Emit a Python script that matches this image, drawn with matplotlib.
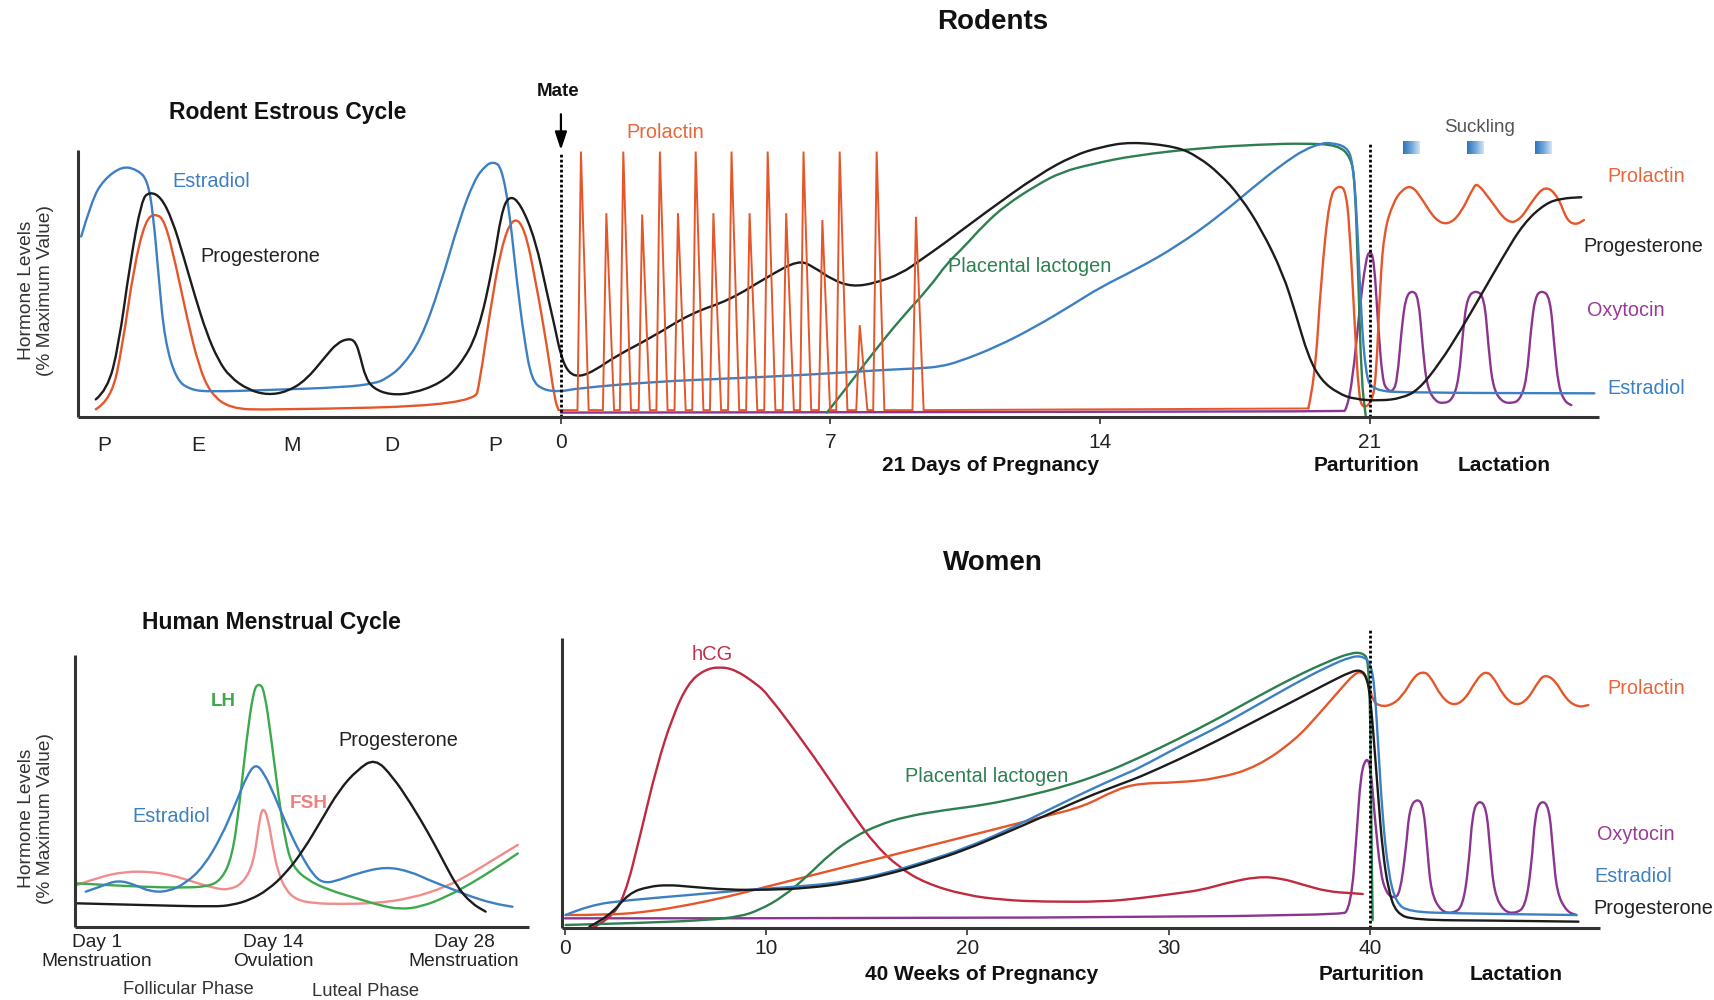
import numpy as np
import matplotlib
matplotlib.use("Agg")
import matplotlib.pyplot as plt
from matplotlib.colors import LinearSegmentedColormap
from matplotlib.path import Path
from matplotlib.patches import PathPatch

plt.rcParams['font.family'] = ['Liberation Sans', 'DejaVu Sans']

W, H = 1715, 1000

BLUE = '#3d80c2'
BLACK = '#1c1c1c'
ORANGE = '#e5572b'
GREEN = '#2d7f4f'
PURPLE = '#8b3590'
LH_GREEN = '#3caa4c'
FSH_PINK = '#f08c8c'
HCG_RED = '#bf2a40'
AXIS = '#333333'

# ---------------- rodents: estrous cycle + 21 days of pregnancy + lactation
# x in days of pregnancy (estrous cycle sits at negative days), y in % of max
rat_e2_day = [-12.46, -12.18, -11.88, -11.39, -10.99, -10.74, -10.59, -10.44, -10.29, -9.99,
              -9.6, -9.1, -7.61, -5.62, -4.83, -4.53, -4.13, -3.64, -3.14, -2.64, -2.25,
              -1.95, -1.75, -1.55, -1.35, -1.15, -0.95, -0.76, -0.46, 0.0, 0.4, 2.39, 4.38,
              6.36, 8.35, 9.34, 9.84, 10.34, 11.33, 12.33, 13.32, 14.0, 15.0, 16.0, 17.1,
              18.2, 18.86, 19.3, 19.74, 20.0, 20.4, 20.56, 20.67, 20.78, 20.9, 21.06, 22.05, 26.84]
rat_e2 = [65.5, 78.8, 86.1, 91.2, 89.7, 86.1, 73.9, 49.7, 27.9, 13.3,
          9.7, 9.1, 9.7, 10.7, 12.1, 13.9, 18.2, 27.9, 47.3, 71.5, 86.1,
          91.5, 92.7, 90.9, 76.4, 49.7, 27.9, 13.3, 9.7, 9.1, 10.3, 12.7, 13.9,
          15.2, 17.0, 17.6, 18.2, 20.0, 25.5, 32.7, 41.0, 47.0, 54.0, 62.0, 73.0,
          86.0, 93.0, 97.0, 99.4, 99.6, 98.2, 93.3, 73.9, 37.6, 15.8, 9.5, 8.7, 8.5]

rat_p4_day = [-12.08, -11.78, -11.49, -11.19, -10.89, -10.69, -10.39, -10.09, -9.8, -9.5,
              -9.2, -8.9, -8.6, -8.11, -7.61, -7.11, -6.62, -6.12, -5.82, -5.52, -5.33,
              -5.21, -5.08, -4.88, -4.43, -3.84, -3.14, -2.64, -2.15, -1.75, -1.55, -1.35,
              -1.05, -0.66, -0.36, -0.16, 0.0, 0.2, 0.5, 0.9, 1.4, 2.39, 3.38, 4.38, 5.37,
              6.17, 6.56, 7.06, 7.56, 8.15, 8.85, 9.34, 9.86, 11.0, 12.4, 13.32, 14.0, 14.8,
              16.0, 16.55, 17.1, 17.65, 18.2, 18.75, 19.08, 19.41, 19.74, 20.18, 20.62,
              21.28, 21.83, 22.27, 22.82, 23.37, 23.92, 24.47, 25.0, 25.57, 26.0, 26.5]
rat_p4 = [6.3, 9.7, 25.5, 55.8, 78.8, 81.8, 80.0, 71.5, 58.2, 43.6,
          30.3, 20.6, 14.5, 9.7, 7.9, 9.1, 13.3, 21.8, 26.7, 28.5, 27.3,
          21.8, 14.5, 10.3, 7.9, 8.5, 12.1, 18.2, 30.3, 55.8, 73.9, 80.6,
          77.6, 64.2, 44.8, 32.7, 22.0, 15.8, 14.5, 17.0, 21.8, 29.1, 37.6, 42.4, 50.9,
          57.0, 54.5, 49.7, 47.3, 48.5, 52.1, 57.0, 62.0, 74.0, 88.0, 95.0, 98.0, 100.0,
          98.2, 94.5, 88.5, 80.0, 67.9, 52.1, 37.6, 21.8, 13.3, 8.5, 6.3,
          5.8, 6.7, 9.7, 19.4, 31.5, 44.8, 58.2, 70.3, 77.6, 79.4, 79.8]

rat_prl_day = [-12.08, -11.68, -11.39, -11.09, -10.79, -10.54, -10.29, -9.99, -9.7, -9.4,
               -9.1, -8.6, -7.61, -2.25, -2.1, -1.85, -1.55, -1.25, -0.95, -0.66, -0.36,
               -0.16, -0.06]
rat_prl = [2.7, 6.1, 25.5, 54.5, 71.5, 73.9, 71.5, 54.5, 35.2, 18.2,
           8.5, 3.0, 2.4, 4.2, 13.3, 37.6, 61.8, 72.7, 69.1, 49.7, 25.5,
           6.1, 2.4]
# twice-daily prolactin surges after mating
prl_surge_day = [0.52, 1.18, 1.62, 2.11, 2.57, 3.04, 3.5, 3.96, 4.43, 4.9, 5.37, 5.85,
                 6.3, 6.79, 7.24, 7.76, 8.2, 9.22]
prl_surge_pct = [96.4, 74.0, 96.4, 73.5, 96.4, 74.0, 96.4, 74.0, 96.4, 74.0, 96.4, 74.0,
                 96.4, 71.5, 96.4, 33.3, 96.4, 72.7]
prl_base = 2.4
rat_prl_late_day = [19.41, 19.58, 19.74, 19.96, 20.18, 20.4, 20.51, 20.62, 20.72, 20.82,
                    21.05, 21.17, 21.28, 21.39, 21.61, 21.83, 22.1, 22.38, 22.71, 23.04,
                    23.37, 23.7, 23.81, 24.14, 24.58, 24.91, 25.24, 25.57, 25.9, 26.12,
                    26.35, 26.57]
rat_prl_late = [3.0, 13.3, 49.7, 80.0, 84.2, 82.4, 62.0, 32.0, 8.0, 3.0,
                5.0, 13.3, 49.7, 67.9, 77.6, 82.4, 84.2, 78.8, 71.5, 69.7,
                73.9, 83.6, 84.8, 78.8, 70.3, 71.5, 78.8, 84.2, 80.0, 71.5,
                69.7, 71.5]

rat_pl_day = [6.91, 7.5, 8.15, 8.85, 9.57, 10.04, 10.42, 11.0, 11.56, 12.33, 13.0, 13.83,
              14.9, 16.67, 18.2, 19.3, 20.18, 20.51, 20.62, 20.71, 20.79, 20.9]
rat_pl = [1.5, 12.0, 24.0, 36.0, 47.0, 56.0, 61.0, 70.0, 77.0, 84.0, 89.0, 92.0,
          95.0, 97.8, 99.0, 99.4, 98.8, 94.5, 86.0, 49.7, 13.3, 0.5]

rat_oxt_day = [0.0, 20.29, 20.4, 20.56, 20.73, 20.9, 21.01, 21.12, 21.23, 21.34, 21.45,
               21.61, 21.72, 21.83, 21.94, 22.11, 22.27, 22.38, 22.49, 22.71, 22.93, 23.15,
               23.32, 23.43, 23.54, 23.76, 23.98, 24.09, 24.2, 24.42, 24.69, 24.91, 25.08,
               25.19, 25.3, 25.47, 25.69, 25.8, 25.91, 26.07, 26.24]
rat_oxt = [1.5, 1.8, 2.4, 13.3, 37.6, 57.0, 60.6, 57.0, 31.5, 13.3, 9.7,
           9.1, 13.3, 31.5, 43.6, 46.0, 43.6, 25.5, 10.9, 5.5, 4.8, 6.1,
           13.3, 31.5, 43.6, 46.0, 43.6, 25.5, 10.9, 5.5, 4.8, 6.1, 13.3,
           31.5, 43.6, 46.0, 43.6, 25.5, 10.9, 5.5, 4.2]

suckling_day = [22.08, 23.74, 25.52]
estrous_stage_day = [-11.86, -9.42, -6.98, -4.39, -1.71]
estrous_stage = ['P', 'E', 'M', 'D', 'P']
mate_day, rat_birth_day = 0, 21

# ---------------- human menstrual cycle (x: cycle day)
men_p4_day = [-0.49, 4.37, 9.63, 10.94, 12.25, 13.56, 14.88, 16.19, 17.5, 18.82, 20.13,
              21.44, 22.75, 24.07, 25.38, 26.43, 27.48, 28.53, 29.58]
men_p4 = [9.6, 8.9, 8.2, 8.9, 11.0, 15.1, 21.9, 31.5, 43.8, 56.2, 64.4,
          69.2, 61.6, 50.7, 38.4, 27.4, 16.4, 9.6, 6.2]
men_e2_day = [0.17, 1.22, 2.53, 3.85, 4.9, 6.21, 7.52, 8.84, 10.15, 11.2, 11.99, 12.65,
              13.3, 14.09, 14.88, 15.93, 16.98, 17.77, 18.82, 20.13, 22.23, 24.07, 25.38,
              26.96, 28.53, 30.11, 31.55]
men_e2 = [14.4, 16.4, 19.2, 17.1, 14.4, 14.4, 17.8, 24.7, 37.0, 50.7, 61.6, 67.1,
          63.0, 53.4, 42.5, 30.1, 20.5, 17.8, 19.2, 21.9, 24.7, 22.6, 19.2,
          15.8, 12.3, 9.6, 8.2]
men_lh_day = [-0.49, 1.75, 4.37, 7.0, 9.1, 10.15, 10.94, 11.46, 11.99, 12.51, 12.91, 13.3,
              13.83, 14.35, 14.88, 15.4, 16.45, 18.03, 20.13, 21.71, 23.28, 24.86, 26.7,
              28.53, 30.11, 31.95]
men_lh = [17.8, 17.1, 16.4, 16.0, 16.4, 19.2, 28.8, 49.3, 76.7, 97.3, 100.0, 97.3,
          76.7, 53.4, 34.2, 24.7, 19.2, 15.1, 11.6, 8.9, 7.1, 8.2, 12.3,
          17.8, 23.3, 30.1]
men_fsh_day = [-0.49, 1.22, 3.06, 4.9, 6.47, 8.05, 9.63, 10.68, 11.73, 12.51, 12.91, 13.17,
               13.56, 13.96, 14.35, 14.88, 15.67, 16.98, 18.82, 21.44, 24.07, 26.7, 28.53,
               30.11, 31.95]
men_fsh = [17.1, 20.5, 22.6, 22.6, 21.2, 18.5, 15.8, 15.1, 17.8, 26.0, 42.5, 49.3,
           45.2, 31.5, 21.9, 15.1, 11.0, 9.6, 9.3, 9.6, 11.6, 16.4, 21.9,
           27.4, 33.6]
men_ticks = [1, 14, 28]
men_tick_labels = ['Day 1\nMenstruation', 'Day 14\nOvulation', 'Day 28\nMenstruation']

# ---------------- women: 40 weeks of pregnancy + lactation (x: week)
hcg_wk = [1.31, 2.19, 2.97, 3.76, 4.55, 5.34, 6.12, 6.91, 7.69, 8.48, 9.46, 10.05, 12.02,
          13.39, 14.38, 15.36, 16.54, 17.91, 19.88, 21.84, 23.81, 26.76, 28.5, 30.5, 31.66,
          32.83, 34.4, 35.6, 36.7, 37.9, 39.06, 39.65]
hcg = [0.0, 3.0, 11.4, 34.3, 58.4, 76.5, 88.6, 93.4, 94.6, 93.4, 88.6, 84.9, 65.7,
       51.2, 40.4, 30.7, 22.3, 16.3, 12.0, 10.2, 9.6, 9.6, 10.8, 12.7, 13.9,
       16.3, 18.7, 18.1, 15.7, 13.3, 12.7, 12.4]
hum_p4_wk = [1.21, 2.19, 3.17, 4.16, 5.14, 6.12, 8.09, 10.05, 12.02, 13.99, 15.95, 17.91,
             19.88, 21.84, 23.81, 25.77, 27.74, 28.5, 30.5, 32.5, 34.4, 36.3, 37.9, 39.06,
             39.55, 39.85, 40.04, 40.24, 40.43, 40.63, 40.92, 41.31, 42.2, 46.08, 50.37]
hum_p4 = [0.6, 4.2, 12.7, 15.1, 15.7, 15.1, 13.9, 13.9, 14.5, 16.3, 19.3, 23.5,
          28.3, 34.3, 40.5, 47.0, 52.5, 54.5, 61.0, 68.1, 75.3, 82.5, 88.6, 92.8,
          93.4, 91.0, 82.5, 64.5, 46.4, 28.3, 13.9, 5.4, 3.0, 2.8, 2.4]
hum_e2_wk = [0.03, 1.21, 3.17, 6.12, 9.07, 12.02, 13.99, 15.95, 17.91, 19.88, 21.84, 23.81,
             25.77, 27.74, 28.5, 30.5, 32.5, 34.4, 36.3, 37.9, 39.06, 39.65, 40.04, 40.24,
             40.43, 40.63, 40.92, 41.31, 41.98, 44.13, 50.27]
hum_e2 = [4.8, 8.4, 10.2, 12.0, 13.9, 15.3, 16.9, 19.9, 24.1, 28.9, 35.0, 42.0,
          49.0, 55.5, 57.8, 65.7, 72.9, 80.7, 88.6, 94.6, 98.2, 98.4, 95.8, 87.3,
          64.5, 40.4, 19.9, 9.0, 6.0, 5.4, 4.8]
hum_prl_wk = [0.03, 2.19, 4.16, 6.12, 8.09, 10.05, 12.02, 13.99, 15.95, 17.91, 19.88, 21.84,
              23.81, 25.77, 27.35, 28.5, 30.5, 32.5, 34.4, 36.3, 37.5, 38.5, 39.25, 39.65,
              39.94, 40.14, 40.43, 41.01, 41.6, 42.2, 42.6, 42.97, 43.55, 44.13, 44.71,
              45.3, 45.69, 46.08, 46.67, 47.25, 47.83, 48.42, 48.71, 49.2, 49.78, 50.37, 50.86]
hum_prl = [4.8, 4.8, 6.0, 8.4, 11.4, 15.1, 18.7, 22.3, 25.9, 29.5, 33.1, 36.7,
           40.4, 44.0, 50.0, 52.4, 52.7, 54.2, 58.4, 68.1, 77.7, 86.1, 92.2, 92.8,
           88.6, 82.5, 80.4, 80.4, 83.7, 91.0, 92.8, 91.6, 83.7, 80.4, 82.5,
           89.8, 92.8, 91.6, 83.7, 80.4, 82.5, 89.8, 91.6, 89.8, 82.5, 79.9, 80.7]
hpl_wk = [0.03, 4.16, 7.1, 8.68, 9.66, 10.84, 12.02, 13.2, 14.38, 15.56, 16.93, 18.9,
          20.86, 22.83, 24.79, 26.76, 28.5, 30.5, 32.5, 34.4, 36.3, 37.9, 39.06, 39.65,
          39.94, 40.04, 40.08, 40.14]
hpl = [1.2, 2.0, 3.0, 4.2, 6.6, 11.4, 18.7, 27.1, 33.1, 37.3, 40.4, 42.8,
       44.6, 47.6, 51.2, 56.0, 61.5, 68.5, 76.0, 83.7, 91.0, 96.4, 99.6, 99.6,
       97.0, 70.5, 34.3, 3.0]
hum_oxt_wk = [0.0, 38.5, 39.06, 39.35, 39.55, 39.84, 40.04, 40.24, 40.53, 40.82, 41.2,
              41.5, 41.79, 41.98, 42.38, 42.67, 42.86, 43.05, 43.55, 44.13, 44.62, 44.91,
              45.1, 45.4, 45.79, 45.98, 46.18, 46.67, 47.25, 47.73, 48.03, 48.22, 48.52,
              48.91, 49.1, 49.3, 49.79, 50.27]
hum_oxt = [3.6, 3.6, 7.8, 34.3, 56.0, 62.0, 58.4, 40.4, 19.9, 12.7, 10.8,
           12.7, 28.3, 44.0, 47.0, 44.0, 28.3, 12.7, 6.0, 5.4, 7.8, 22.3,
           41.6, 46.4, 44.0, 28.3, 12.7, 6.0, 5.4, 7.8, 22.3, 41.6, 46.4,
           44.0, 28.3, 12.7, 6.0, 4.8]
week_ticks = [0, 10, 20, 30, 40]
hum_birth_wk = 40


def px_axes(fig, x0, x1, y_base, y_top):
    return fig.add_axes([x0 / W, 1 - y_base / H, (x1 - x0) / W, (y_base - y_top) / H])


def style_axes(ax):
    for s in ('top', 'right'):
        ax.spines[s].set_visible(False)
    for s in ('left', 'bottom'):
        ax.spines[s].set_linewidth(2.2)
        ax.spines[s].set_color(AXIS)
        ax.spines[s].set_capstyle('butt')
    ax.set_yticks([])
    ax.patch.set_alpha(0)


def curve(ax, x, y, color, lw=1.7):
    # smooth path: the given points act as quadratic bezier control points
    pts = np.column_stack([x, y]).astype(float)
    verts, codes = [pts[0]], [Path.MOVETO]
    for i in range(1, len(pts) - 1):
        verts += [pts[i], (pts[i] + pts[i + 1]) / 2]
        codes += [Path.CURVE3, Path.CURVE3]
    verts.append(pts[-1])
    codes.append(Path.LINETO)
    ax.add_patch(PathPatch(Path(verts, codes), fill=False, edgecolor=color, lw=lw,
                           clip_on=False, joinstyle='round', capstyle='round'))


fig = plt.figure(figsize=(W / 100, H / 100), dpi=100)


def label(x, y, s, size=14.3, **kw):
    fig.text(x / W, 1 - y / H, s, ha='center', va='center', fontsize=size, **kw)


BOLD = dict(weight='bold', color='#111111')

# ================= top: rodents
ax = px_axes(fig, 77.7, 1599, 416.7, 141.7)
style_axes(ax)
ax.set_xlim(-12.55, 26.96)
ax.set_ylim(0, 100)
ax.spines['left'].set_bounds(0, 97)

surge_x = [rat_prl_day[-1]]
surge_y = [rat_prl[-1]]
for d, h in zip(prl_surge_day, prl_surge_pct):
    surge_x += [d - 0.09, d, d + 0.2]
    surge_y += [prl_base, h, prl_base]
surge_x.append(rat_prl_late_day[0])
surge_y.append(rat_prl_late[0])

curve(ax, rat_oxt_day, rat_oxt, PURPLE)
curve(ax, rat_prl_day, rat_prl, ORANGE)
ax.plot(surge_x, surge_y, color=ORANGE, lw=1.4, clip_on=False, solid_joinstyle='miter')
curve(ax, rat_prl_late_day, rat_prl_late, ORANGE)
curve(ax, rat_pl_day, rat_pl, GREEN)
curve(ax, rat_e2_day, rat_e2, BLUE)
curve(ax, rat_p4_day, rat_p4, BLACK)

dots = dict(color='black', lw=2.0, linestyle=(0, (1.0, 0.8)))
ax.axvline(mate_day, 0, 0.955, **dots)
ax.axvline(rat_birth_day, 0, 1.0, **dots)
ax.annotate('', xy=(mate_day, 96), xytext=(mate_day, 111), annotation_clip=False,
            arrowprops=dict(arrowstyle='-|>,head_width=0.3,head_length=0.9',
                            color='black', lw=1.6, mutation_scale=12))

grad = LinearSegmentedColormap.from_list('suck', ['#2f74ba', '#6fa6d8', '#d2e4f4'])
for d in suckling_day:
    ax.imshow(np.linspace(0, 1, 30).reshape(1, -1), cmap=grad, aspect='auto',
              extent=(d - 0.22, d + 0.22, 95.4, 99.8), clip_on=False, zorder=3)
ax.set_xlim(-12.55, 26.96)
ax.set_ylim(0, 100)

ax.set_xticks([0, 7, 14, 21])
ax.set_xticks(estrous_stage_day, labels=estrous_stage, minor=True)
ax.tick_params(axis='x', which='major', labelsize=15, length=5, width=1.2,
               color=AXIS, pad=7, labelcolor='#222222')
ax.tick_params(axis='x', which='minor', labelsize=15, length=0, pad=14,
               labelcolor='#222222')

label(993, 22, 'Rodents', size=20, **BOLD)
label(288, 113, 'Rodent Estrous Cycle', size=16.5, **BOLD)
label(558, 91, 'Mate', size=13.5, **BOLD)
label(36, 290, 'Hormone Levels\n(% Maximum Value)', size=13.8, rotation=90,
      color='#333333', linespacing=1.1)
label(211, 182, 'Estradiol', color='#3d80c2')
label(260, 257, 'Progesterone', color='#222222')
label(665, 133, 'Prolactin', color='#e8663a')
label(1030, 267, 'Placental lactogen', color='#2e8050')
label(1480, 128, 'Suckling', size=13.5, color='#555555')
label(1646, 177, 'Prolactin', color='#e8663a')
label(1643, 247, 'Progesterone', color='#222222')
label(1626, 311, 'Oxytocin', color='#9a3a96')
label(1646, 389, 'Estradiol', color='#3d80c2')
label(990, 465, '21 Days of Pregnancy', size=15, **BOLD)
label(1367, 465, 'Parturition', size=15, **BOLD)
label(1504, 465, 'Lactation', size=15, **BOLD)

# ================= bottom left: human menstrual cycle
axm = px_axes(fig, 75, 528.6, 926.7, 655)
style_axes(axm)
axm.set_xlim(-0.62, 32.74)
axm.set_ylim(0, 111.6)
curve(axm, men_fsh_day, men_fsh, FSH_PINK)
curve(axm, men_lh_day, men_lh, LH_GREEN)
curve(axm, men_e2_day, men_e2, BLUE)
curve(axm, men_p4_day, men_p4, BLACK)
axm.set_xticks(men_ticks, labels=men_tick_labels)
axm.tick_params(axis='x', labelsize=13.8, length=0, pad=5, labelcolor='#222222')

label(271, 623, 'Human Menstrual Cycle', size=16.5, **BOLD)
label(36, 818, 'Hormone Levels\n(% Maximum Value)', size=13.8, rotation=90,
      color='#333333', linespacing=1.1)
label(223, 702, 'LH', color=LH_GREEN, weight='bold', size=13.5)
label(398, 740, 'Progesterone', color='#222222')
label(309, 803, 'FSH', color='#f08080', weight='bold', size=13.7)
label(171, 817, 'Estradiol', color='#3d80c2')
label(188, 990, 'Follicular Phase', size=13.2, color='#333333')
label(366, 991, 'Luteal Phase', size=13.2, color='#333333')

# ================= bottom right: women
axw = px_axes(fig, 561.6, 1600, 928.3, 638)
style_axes(axw)
axw.set_xlim(-0.17, 51.44)
axw.set_ylim(0, 104.95)
curve(axw, hum_oxt_wk, hum_oxt, PURPLE)
curve(axw, hcg_wk, hcg, HCG_RED)
curve(axw, hum_prl_wk, hum_prl, ORANGE)
curve(axw, hpl_wk, hpl, GREEN)
curve(axw, hum_e2_wk, hum_e2, BLUE)
curve(axw, hum_p4_wk, hum_p4, BLACK)
axw.axvline(hum_birth_wk, 0, 107.8 / 104.95, clip_on=False, **dots)
axw.set_xticks(week_ticks)
axw.tick_params(axis='x', labelsize=15, length=5, width=1.2, color=AXIS, pad=3,
                labelcolor='#222222')

label(993, 563, 'Women', size=20, **BOLD)
label(712, 655, 'hCG', color='#c0304a', size=14.5)
label(987, 777, 'Placental lactogen', color='#2e8050')
label(1646, 688, 'Prolactin', color='#e8663a')
label(1636, 835, 'Oxytocin', color='#9a3a96')
label(1633, 877, 'Estradiol', color='#3d80c2')
label(1653, 909, 'Progesterone', color='#222222')
label(982, 975, '40 Weeks of Pregnancy', size=15, **BOLD)
label(1372, 975, 'Parturition', size=15, **BOLD)
label(1516, 975, 'Lactation', size=15, **BOLD)

fig.savefig('out.png', dpi=100, facecolor='white')
